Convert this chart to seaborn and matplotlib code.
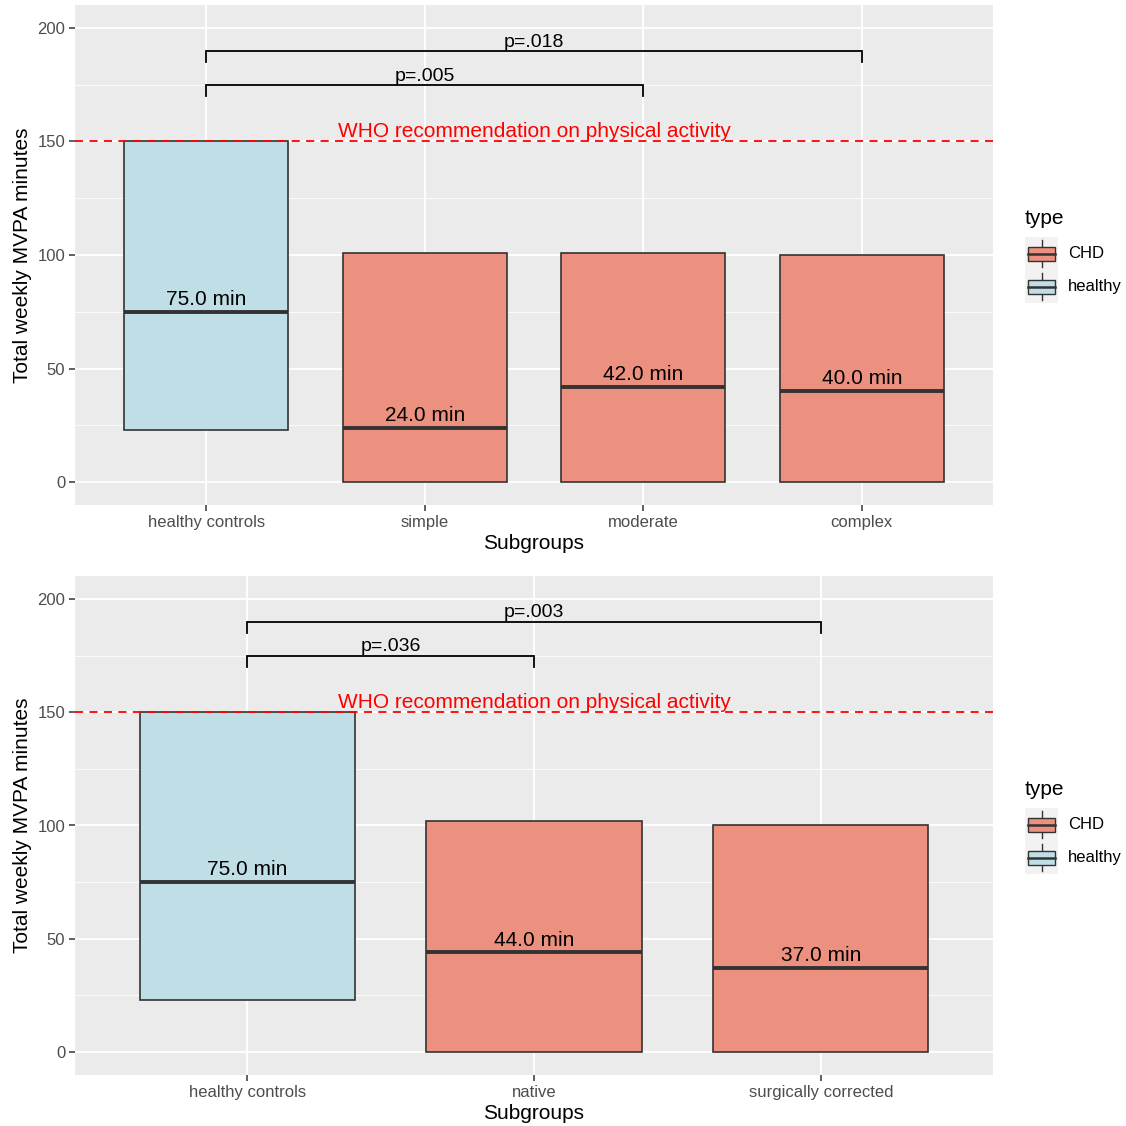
import numpy as np
import pandas as pd
import matplotlib
matplotlib.use("Agg")
import matplotlib.pyplot as plt
import seaborn as sns
from matplotlib.patches import Rectangle

# ---------------- data ----------------
top_groups = ["healthy controls", "simple", "moderate", "complex"]
top_types = ["healthy", "CHD", "CHD", "CHD"]
top_q1 = [23, 0, 0, 0]
top_median = [75, 24, 42, 40]
top_q3 = [150, 101, 101, 100]
top_brackets = [("healthy controls", "moderate", 175, "p=.005"),
                ("healthy controls", "complex", 190, "p=.018")]

bot_groups = ["healthy controls", "native", "surgically corrected"]
bot_types = ["healthy", "CHD", "CHD"]
bot_q1 = [23, 0, 0]
bot_median = [75, 44, 37]
bot_q3 = [150, 102, 100]
bot_brackets = [("healthy controls", "native", 175, "p=.036"),
                ("healthy controls", "surgically corrected", 190, "p=.003")]

who_level = 150
who_label = "WHO recommendation on physical activity"
type_levels = ["CHD", "healthy"]
palette = {"CHD": "#EC9180", "healthy": "#C0DEE6"}

FONT = ["Liberation Sans", "DejaVu Sans"]
plt.rcParams["font.family"] = FONT

W = 1126
fig = plt.figure(figsize=(11.26, 11.26), dpi=100)


def build_df(groups, types, q1, med, q3):
    rows = []
    for g, t, a, m, b in zip(groups, types, q1, med, q3):
        for v in (a, a, m, b, b):
            rows.append({"group": g, "type": t, "value": v})
    return pd.DataFrame(rows)


def draw_legend(offset_px):
    # legend area in figure pixel coordinates (y downward)
    x0, x1, y0, y1 = 1015, 1126, 200 + offset_px, 310 + offset_px
    lax = fig.add_axes([x0 / W, 1 - y1 / W, (x1 - x0) / W, (y1 - y0) / W])
    lax.set_xlim(x0, x1)
    lax.set_ylim(y1, y0)
    lax.axis("off")
    lax.text(1025, 218 + offset_px, "type", fontsize=15, ha="left", va="center")
    key_top = 237 + offset_px
    key_h = 33
    for k, t in enumerate(type_levels):
        ky = key_top + k * key_h
        lax.add_patch(Rectangle((1025, ky), 33, key_h, facecolor="#F2F2F2",
                                edgecolor="none"))
        cy = ky + key_h / 2
        lax.plot([1041.5, 1041.5], [ky + 3, ky + key_h - 3], color="#333333", lw=1)
        lax.add_patch(Rectangle((1028, cy - 7), 27, 14, facecolor=palette[t],
                                edgecolor="#333333", lw=1, zorder=3))
        lax.plot([1028, 1055], [cy, cy], color="#333333", lw=1.8, zorder=4)
        lax.text(1068, cy, t, fontsize=12, ha="left", va="center")


def panel(top_px, bottom_px, groups, types, q1, med, q3, brackets):
    ax = fig.add_axes([75 / W, 1 - bottom_px / W, 918 / W, (bottom_px - top_px) / W])
    df = build_df(groups, types, q1, med, q3)
    ax.set_facecolor("#EBEBEB")
    ax.set_axisbelow(True)
    sns.boxplot(data=df, x="group", y="value", hue="type", order=groups,
                hue_order=type_levels, palette=palette, dodge=False, width=0.75,
                whis=0, showfliers=False, showcaps=False, linecolor="#333333",
                linewidth=1.2, medianprops=dict(linewidth=2.8, color="#333333"),
                saturation=1, legend=False, ax=ax)
    n = len(groups)
    ax.set_xlim(-0.6, n - 0.4)
    ax.set_ylim(-10.1, 210.1)
    ax.set_yticks([0, 50, 100, 150, 200])
    ax.set_yticks([25, 75, 125, 175], minor=True)
    ax.grid(which="major", color="white", lw=1.3)
    ax.grid(which="minor", axis="y", color="white", lw=0.6)
    for s in ax.spines.values():
        s.set_visible(False)
    ax.tick_params(axis="both", which="major", length=4, width=1.1, color="#333333",
                   labelsize=12, labelcolor="#4D4D4D", pad=3)
    ax.tick_params(axis="y", which="minor", length=0)
    ax.set_xlabel("Subgroups", fontsize=15, labelpad=3, color="black")
    ax.set_ylabel("Total weekly MVPA minutes", fontsize=15, labelpad=4, color="black")

    # median labels
    for i, m in enumerate(med):
        ax.text(i, m + 3.0, f"{m:.1f} min", ha="center", va="baseline",
                fontsize=15, color="black", zorder=6)

    # WHO line
    ax.axhline(who_level, color="#FF0000", ls=(0, (4.5, 3.5)), lw=1.3, zorder=5)
    ax.text((n - 1) / 2, who_level + 2, who_label, ha="center", va="baseline",
            color="#FF0000", fontsize=15, zorder=6)

    # significance brackets
    for a, b, y, lab in brackets:
        x1, x2 = groups.index(a), groups.index(b)
        ax.plot([x1, x1, x2, x2], [y - 5, y, y, y - 5], color="black", lw=1.3,
                solid_joinstyle="miter", zorder=5)
        ax.text((x1 + x2) / 2, y + 1.8, lab, ha="center", va="baseline",
                fontsize=14, color="black", zorder=6)
    return ax


panel(5, 505, top_groups, top_types, top_q1, top_median, top_q3, top_brackets)
draw_legend(0)
panel(576, 1075, bot_groups, bot_types, bot_q1, bot_median, bot_q3, bot_brackets)
draw_legend(571)

fig.savefig("out.png", dpi=100, facecolor="white")
